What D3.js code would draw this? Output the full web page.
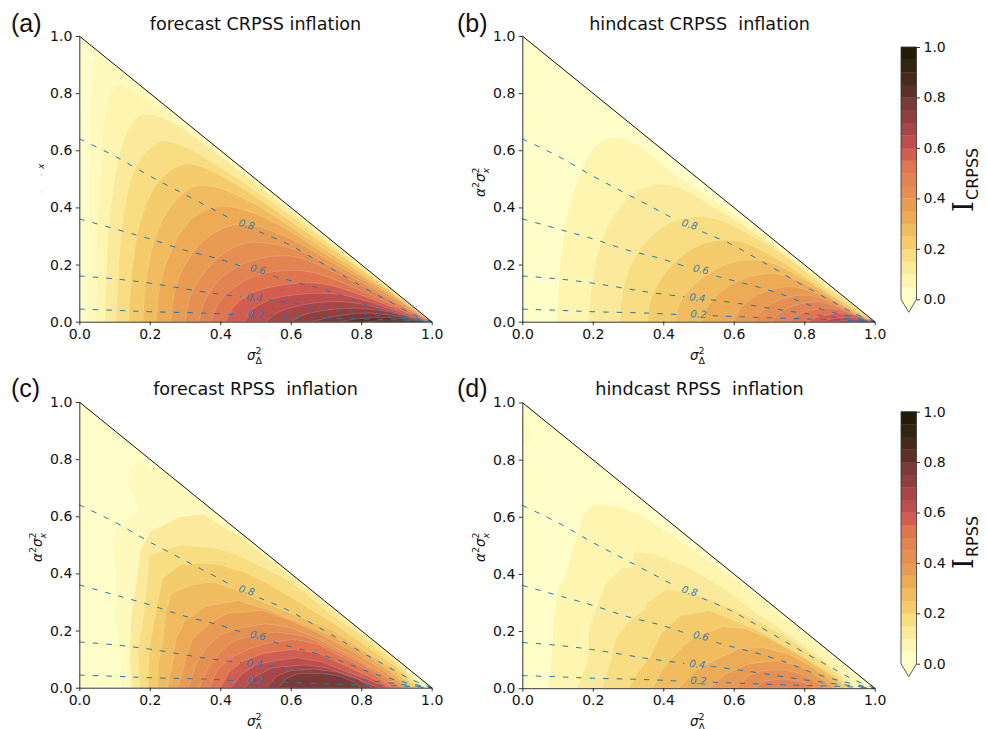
<!DOCTYPE html>
<html>
<head>
<meta charset="utf-8">
<script src="https://cdnjs.cloudflare.com/ajax/libs/d3/7.8.5/d3.min.js"></script>
<style>
  html, body { margin: 0; padding: 0; background: #fff; overflow: hidden; }
  svg { display: block; }
  text { font-family: "DejaVu Sans", sans-serif; fill: #111; }
  .tick line, .domain { stroke: #000; stroke-width: 0.8; }
  .tick text { font-size: 14px; font-family: "DejaVu Sans", sans-serif; fill: #111; }
</style>
</head>
<body>
<svg id="root" width="987" height="729"></svg>
<script>
// colour of each 0.05 wide band, low to high
const bandColors = ["#fffdc8", "#fdf5b0", "#fbea9b", "#f8dd82", "#f4cc6b", "#f1bc5f", "#edab55", "#e89b53", "#e58f52", "#e28352",
  "#df764f", "#d15e50", "#bd4e4e", "#a64646", "#8e403e", "#7a3a38", "#5c3026", "#472a1a", "#33240f", "#221c08"];
const barTicks = [0, 0.2, 0.4, 0.6, 0.8, 1];
const axisTicks = [0, 0.2, 0.4, 0.6, 0.8, 1];

// contour lines, low level first, as [x, y] in data units
const forecastCrpssEdge = [[.026,0],[.027,.3],[.03,.6],[.036,.85],[.05,.93],[.09,.905],[.3,.695],[.6,.398],[.9,.099],[1,0]];
const forecastCrpss = [
  [[.049,0],[.052,.3],[.062,.55],[.08,.76],[.11,.828],[.16,.80],[.3,.678],[.6,.39],[.9,.097],[1,0]],
  [[.074,0],[.08,.25],[.095,.45],[.125,.63],[.172,.722],[.23,.715],[.3,.668],[.6,.385],[.8,.193],[.9,.096],[1,0]],
  [[.106,0],[.113,.2],[.13,.4],[.165,.55],[.229,.629],[.29,.615],[.4,.54],[.6,.37],[.8,.187],[.9,.094],[1,0]],
  [[.142,0],[.15,.17],[.175,.35],[.22,.48],[.29,.548],[.35,.54],[.45,.475],[.6,.35],[.8,.18],[.9,.09],[1,0]],
  [[.18,0],[.19,.15],[.22,.31],[.27,.42],[.328,.474],[.39,.47],[.5,.41],[.65,.29],[.8,.17],[.9,.087],[1,0]],
  [[.218,0],[.23,.13],[.265,.26],[.32,.36],[.38,.40],[.44,.40],[.55,.35],[.7,.235],[.8,.16],[.9,.083],[1,0]],
  [[.26,0],[.272,.11],[.31,.22],[.37,.30],[.437,.338],[.5,.335],[.6,.29],[.7,.22],[.8,.15],[.9,.078],[1,0]],
  [[.30,0],[.315,.09],[.36,.18],[.41,.24],[.464,.272],[.51,.278],[.62,.25],[.72,.19],[.82,.125],[.9,.07],[1,0]],
  [[.34,0],[.355,.07],[.40,.15],[.47,.205],[.558,.23],[.62,.225],[.72,.175],[.82,.115],[.9,.065],[1,0]],
  [[.375,0],[.395,.065],[.44,.12],[.51,.165],[.605,.18],[.67,.17],[.76,.13],[.85,.08],[.92,.045],[1,0]],
  [[.415,0],[.44,.055],[.49,.10],[.56,.125],[.653,.136],[.72,.125],[.8,.093],[.87,.06],[.94,.027],[1,0]],
  [[.47,0],[.495,.045],[.55,.08],[.62,.095],[.70,.099],[.76,.09],[.83,.067],[.89,.042],[.95,.018],[1,0]],
  [[.53,0],[.56,.03],[.62,.055],[.68,.067],[.738,.07],[.80,.062],[.86,.045],[.91,.028],[.96,.01],[1,0]],
  [[.60,0],[.64,.025],[.70,.04],[.785,.047],[.85,.04],[.90,.028],[.95,.012],[1,0]],
  [[.66,0],[.71,.015],[.77,.027],[.823,.03],[.88,.024],[.93,.014],[.97,.005],[1,0]],
  [[.74,0],[.79,.01],[.85,.015],[.90,.012],[.95,.006],[.98,.002],[1,0]],
  [[.82,0],[.87,.005],[.92,.005],[.97,.002],[1,0]]
];

const hindcastCrpss = [
  [[.10,0],[.105,.15],[.125,.35],[.165,.52],[.21,.615],[.26,.643],[.32,.62],[.45,.5],[.6,.375],[.8,.192],[.9,.097],[1,0]],
  [[.19,0],[.197,.12],[.22,.26],[.26,.37],[.32,.45],[.386,.48],[.45,.465],[.55,.395],[.7,.275],[.85,.14],[.93,.066],[1,0]],
  [[.277,0],[.285,.1],[.31,.2],[.36,.29],[.43,.35],[.503,.367],[.57,.35],[.65,.3],[.75,.225],[.85,.13],[.93,.062],[1,0]],
  [[.357,0],[.367,.08],[.40,.16],[.45,.225],[.50,.265],[.56,.283],[.63,.275],[.72,.22],[.82,.14],[.9,.075],[1,0]],
  [[.435,0],[.445,.06],[.48,.12],[.53,.17],[.59,.205],[.653,.218],[.71,.205],[.79,.155],[.87,.095],[.94,.04],[1,0]],
  [[.51,0],[.525,.05],[.565,.105],[.63,.15],[.705,.169],[.76,.155],[.83,.115],[.9,.065],[.96,.022],[1,0]],
  [[.60,0],[.615,.04],[.65,.08],[.70,.11],[.757,.122],[.81,.11],[.87,.08],[.93,.04],[1,0]],
  [[.66,0],[.675,.03],[.71,.065],[.75,.085],[.795,.093],[.84,.085],[.89,.06],[.94,.03],[1,0]],
  [[.71,0],[.73,.03],[.77,.055],[.833,.07],[.875,.06],[.92,.04],[.96,.018],[1,0]],
  [[.76,0],[.78,.022],[.82,.04],[.87,.047],[.91,.04],[.95,.022],[1,0]],
  [[.81,0],[.835,.015],[.87,.025],[.90,.03],[.94,.024],[.97,.01],[1,0]],
  [[.85,0],[.88,.01],[.927,.015],[.96,.01],[1,0]],
  [[.89,0],[.93,.006],[.96,.006],[1,0]]
];

const forecastRpssEdge = [[.12,0],[.117,.137],[.101,.242],[.106,.37],[.097,.498],[.106,.557],[.168,.625],[.149,.69],[.139,.754],[.168,.80],[.25,.745],[.4,.595],[.6,.398],[.8,.198],[.9,.099],[.985,0]];
const forecastRpss = [
  [[.148,0],[.144,.137],[.148,.253],[.163,.37],[.172,.475],[.2,.545],[.286,.597],[.352,.607],[.38,.585],[.46,.525],[.6,.39],[.8,.193],[.9,.096],[.975,0]],
  [[.172,0],[.167,.137],[.182,.242],[.191,.335],[.2,.463],[.286,.498],[.38,.489],[.437,.47],[.52,.42],[.6,.37],[.7,.27],[.8,.18],[.9,.085],[.965,0]],
  [[.196,0],[.2,.14],[.22,.277],[.238,.382],[.286,.428],[.34,.435],[.39,.43],[.465,.405],[.54,.36],[.62,.3],[.72,.225],[.82,.14],[.9,.07],[.955,0]],
  [[.22,0],[.225,.09],[.238,.17],[.245,.265],[.262,.33],[.32,.36],[.38,.37],[.44,.345],[.52,.3],[.62,.25],[.72,.2],[.82,.12],[.9,.055],[.945,0]],
  [[.25,0],[.265,.09],[.274,.17],[.30,.235],[.36,.285],[.45,.305],[.53,.275],[.62,.23],[.72,.18],[.82,.11],[.89,.05],[.935,0]],
  [[.28,0],[.30,.09],[.32,.17],[.37,.225],[.42,.26],[.52,.27],[.6,.235],[.68,.19],[.78,.125],[.87,.055],[.925,0]],
  [[.31,0],[.33,.08],[.36,.14],[.40,.185],[.46,.21],[.53,.224],[.6,.21],[.68,.17],[.78,.105],[.86,.05],[.915,0]],
  [[.34,0],[.365,.07],[.40,.125],[.44,.165],[.50,.185],[.56,.195],[.64,.18],[.72,.135],[.8,.085],[.86,.04],[.90,0]],
  [[.37,0],[.39,.06],[.43,.105],[.48,.135],[.53,.155],[.61,.17],[.68,.15],[.75,.105],[.82,.06],[.89,0]],
  [[.40,0],[.425,.055],[.46,.09],[.52,.12],[.61,.135],[.68,.12],[.75,.08],[.82,.04],[.88,0]],
  [[.43,0],[.46,.045],[.50,.08],[.56,.095],[.62,.105],[.69,.09],[.76,.055],[.82,.028],[.87,0]],
  [[.47,0],[.50,.04],[.55,.07],[.64,.08],[.70,.07],[.76,.045],[.85,0]],
  [[.53,0],[.56,.04],[.60,.06],[.67,.065],[.73,.055],[.79,.03],[.83,0]],
  [[.565,0],[.585,.03],[.62,.05],[.69,.05],[.74,.04],[.78,.02],[.80,0]]
];

const hindcastRpssApex = [[0,.94],[.015,.92],[.025,.89],[.018,.86],[0,.84]];
const hindcastRpss = [
  [[.075,0],[.085,.137],[.09,.242],[.1,.335],[.125,.40],[.15,.51],[.175,.61],[.20,.644],[.27,.638],[.336,.603],[.414,.545],[.51,.463],[.617,.37],[.8,.19],[.9,.085],[.98,0]],
  [[.155,0],[.187,.10],[.19,.21],[.235,.36],[.28,.417],[.313,.423],[.318,.476],[.376,.468],[.474,.42],[.57,.35],[.668,.26],[.766,.18],[.86,.095],[.945,0]],
  [[.227,0],[.255,.11],[.265,.17],[.30,.23],[.35,.277],[.355,.30],[.41,.345],[.503,.323],[.571,.29],[.668,.235],[.766,.165],[.86,.085],[.935,0]],
  [[.303,0],[.326,.05],[.364,.11],[.393,.187],[.445,.25],[.53,.27],[.662,.205],[.785,.12],[.889,.04],[.92,0]],
  [[.37,0],[.395,.06],[.42,.10],[.455,.145],[.49,.18],[.57,.215],[.63,.21],[.7,.175],[.8,.105],[.88,.04],[.915,0]],
  [[.445,0],[.49,.06],[.55,.10],[.615,.137],[.68,.143],[.757,.12],[.814,.08],[.87,.032],[.894,0]],
  [[.53,0],[.577,.05],[.643,.085],[.72,.096],[.785,.08],[.85,.032],[.885,0]],
  [[.605,0],[.643,.044],[.68,.061],[.747,.065],[.804,.044],[.86,0]],
  [[.66,0],[.69,.026],[.738,.032],[.795,.023],[.83,0]]
];

// dashed correlation lines, null marks the gap left for the label
const rho02 = [[0,.044],[.1,.04],[.2,.035],[.357,.03],[.455,.024],null,[.54,.021],[.74,.012],[.91,.006],[1,0]];
const rho04 = [[0,.16],[.1,.15],[.2,.135],[.3,.115],[.36,.103],[.46,.087],null,[.535,.077],[.626,.062],[.768,.035],[.91,.012],[1,0]];
const rho06 = [[0,.36],[.1,.325],[.2,.29],[.3,.25],[.39,.222],[.47,.19],null,[.55,.16],[.62,.137],[.673,.12],[.75,.09],[.815,.058],[.91,.023],[1,0]];
const rho08 = [[0,.64],[.1,.58],[.2,.51],[.3,.445],[.4,.38],[.43,.36],null,[.51,.315],[.588,.274],[.66,.225],[.73,.175],[.8,.125],[.872,.076],[.94,.03],[1,0]];
const rhoLines = [rho02, rho04, rho06, rho08];
const rhoNames = ["0.2", "0.4", "0.6", "0.8"];
const rhoLabelX = [.5, .497, .507, .475];
const rhoLabelY = [.026, .084, .183, .34];
const rhoLabelAngle = [3, 7, 12, 17];

const triangle = [[0,0],[0,1],[1,0]];
const hypotenuse = [[0,1],[1,0]];

const svg = d3.select("#root");

// panels: left/top of the plotting box in pixels, first = colour index of the first contour
const panels = [
  {id: "a", tag: "(a)", title: "forecast CRPSS inflation", x0: 79.3, y0: 36, lines: forecastCrpss, edge: forecastCrpssEdge, first: 1, curve: d3.curveCatmullRom, tagX: 11, tagY: 32, titleY: 29.5, labelX: 247, labelY: 360},
  {id: "b", tag: "(b)", title: "hindcast CRPSS  inflation", x0: 522.3, y0: 36, lines: hindcastCrpss, edge: null, first: 1, curve: d3.curveCatmullRom, tagX: 457, tagY: 32, titleY: 29.5, labelX: 690, labelY: 360},
  {id: "c", tag: "(c)", title: "forecast RPSS  inflation", x0: 79.3, y0: 402, lines: forecastRpss, edge: forecastRpssEdge, first: 2, curve: d3.curveLinear, tagX: 11, tagY: 397, titleY: 395, labelX: 247, labelY: 726},
  {id: "d", tag: "(d)", title: "hindcast RPSS  inflation", x0: 522.3, y0: 402.5, lines: hindcastRpss, edge: hindcastRpssApex, first: 1, curve: d3.curveLinear, tagX: 457, tagY: 397, titleY: 395, labelX: 690, labelY: 726}
];

const boxW = 352.4;
const boxH = 285.7;

panels.forEach(p => drawPanel(p));
drawBar(47, 299.3, "CRPSS", 200);
drawBar(411.7, 663.7, "RPSS", 557);

function drawPanel(p) {
  let x = d3.scaleLinear().domain([0, 1]).range([p.x0, p.x0 + boxW]);
  let y = d3.scaleLinear().domain([0, 1]).range([p.y0 + boxH, p.y0]);

  let g = svg.append("g").attr("class", "panel-" + p.id);

  let outline = d3.line().x(d => x(d[0])).y(d => y(d[1]));
  let smooth = d3.line().x(d => x(d[0])).y(d => y(d[1])).curve(p.curve);

  g.append("clipPath").attr("id", "clip-" + p.id)
    .append("path").attr("d", outline(triangle) + "Z");

  let fills = g.append("g").attr("clip-path", "url(#clip-" + p.id + ")");

  fills.append("path")
    .attr("d", outline(triangle) + "Z")
    .attr("fill", bandColors[0]);

  // faint first step, only half a band darker than the background
  if (p.edge) {
    fills.append("path")
      .attr("d", smooth(p.edge) + "Z")
      .attr("fill", bandColors[1])
      .attr("fill-opacity", 0.5);
  }

  fills.selectAll("path.level")
    .data(p.lines)
    .enter().append("path")
    .attr("class", "level")
    .attr("d", d => smooth(d) + "Z")
    .attr("fill", (d, i) => bandColors[i + p.first])
    .attr("stroke", "#fff")
    .attr("stroke-opacity", (d, i) => i + p.first > 4 ? 0.28 : 0)
    .attr("stroke-width", 0.6);

  // dashed lines
  let dashed = d3.line().defined(d => d !== null).x(d => x(d[0])).y(d => y(d[1])).curve(d3.curveCatmullRom);

  rhoLines.forEach(line => {
    g.append("path")
      .attr("d", dashed(line))
      .attr("fill", "none")
      .attr("stroke", "#1f77b4")
      .attr("stroke-width", 1)
      .attr("stroke-dasharray", "5.5 8");
  });

  rhoNames.forEach((name, i) => {
    let lx = x(rhoLabelX[i]), ly = y(rhoLabelY[i]);
    g.append("text")
      .attr("transform", `translate(${lx},${ly}) rotate(${rhoLabelAngle[i]})`)
      .attr("text-anchor", "middle")
      .attr("dy", "0.35em")
      .style("font-size", "10px")
      .style("font-style", "italic")
      .style("fill", "#2f7fb8")
      .text(name);
  });

  // black edge of the triangle
  g.append("path")
    .attr("d", outline(hypotenuse))
    .attr("fill", "none")
    .attr("stroke", "#111")
    .attr("stroke-width", 1);

  let xAxis = d3.axisBottom(x).tickValues(axisTicks).tickFormat(d3.format(".1f")).tickSize(3.5).tickPadding(3.5).tickSizeOuter(0);
  let yAxis = d3.axisLeft(y).tickValues(axisTicks).tickFormat(d3.format(".1f")).tickSize(3.5).tickPadding(3.5).tickSizeOuter(0);

  g.append("g").attr("transform", `translate(0,${p.y0 + boxH})`).call(xAxis);
  g.append("g").attr("transform", `translate(${p.x0},0)`).call(yAxis);

  g.selectAll(".tick text").attr("font-family", null).attr("font-size", null);

  g.append("text")
    .attr("x", p.x0 + boxW / 2 + (p.id == "a" || p.id == "c" ? 0 : 1))
    .attr("y", p.titleY)
    .attr("text-anchor", "middle")
    .attr("xml:space", "preserve")
    .style("white-space", "pre")
    .style("font-size", "17.6px")
    .text(p.title);

  g.append("text")
    .attr("x", p.tagX)
    .attr("y", p.tagY)
    .style("font-family", "'Liberation Sans', sans-serif")
    .style("font-size", "25px")
    .text(p.tag);

  drawXLabel(g, p.labelX, p.labelY);
  if (p.id == "b") drawYLabel(g, 484.5, 197);
  if (p.id == "c") drawYLabel(g, 41.5, 562);
  if (p.id == "d") drawYLabel(g, 484.5, 562);
  if (p.id == "a") drawLabelScrap(g);
}

function mathPiece(g, dx, dy, size, italic, str) {
  g.append("text")
    .attr("x", dx)
    .attr("y", dy)
    .style("font-size", size + "px")
    .style("font-style", italic ? "italic" : "normal")
    .text(str);
}

function drawXLabel(g, px, py) {
  let t = g.append("g").attr("transform", `translate(${px},${py})`);
  mathPiece(t, 0, 0, 13.5, true, "σ");
  mathPiece(t, 8.5, -6, 9.5, false, "2");
  mathPiece(t, 8.5, 4, 9.5, false, "Δ");
}

function drawYLabel(g, px, py) {
  let t = g.append("g").attr("transform", `translate(${px},${py}) rotate(-90)`);
  mathPiece(t, 0, 0, 13.5, true, "α");
  mathPiece(t, 9, -6, 9.5, false, "2");
  mathPiece(t, 15, 0, 13.5, true, "σ");
  mathPiece(t, 23.5, -6, 9.5, false, "2");
  mathPiece(t, 23.5, 4, 9.5, true, "x");
}

// panel (a) only keeps scraps of its y label
function drawLabelScrap(g) {
  let t = g.append("g").attr("transform", "translate(44,169) rotate(-90)");
  mathPiece(t, 0, 0, 9, true, "x");
  g.append("text").attr("transform", "translate(43,176) rotate(-90)").style("font-size", "6px").style("fill", "#777").text("-");
  g.append("text").attr("transform", "translate(43,193) rotate(-90)").style("font-size", "6px").style("fill", "#aaa").text("-");
}

function drawBar(top, bottom, name, labelBottom) {
  let barX = 901, barW = 15.5;
  let scale = d3.scaleLinear().domain([0, 1]).range([bottom, top]);
  let g = svg.append("g");

  g.selectAll("rect")
    .data(bandColors)
    .enter().append("rect")
    .attr("x", barX)
    .attr("width", barW)
    .attr("y", (d, i) => scale((i + 1) * 0.05))
    .attr("height", (d, i) => scale(i * 0.05) - scale((i + 1) * 0.05) + 0.3)
    .attr("fill", d => d);

  let tip = [[barX, bottom], [barX + barW / 2, bottom + 13], [barX + barW, bottom]];
  g.append("path").attr("d", d3.line()(tip) + "Z").attr("fill", bandColors[0]);

  g.append("path")
    .attr("d", d3.line()([[barX, bottom], [barX, top], [barX + barW, top], [barX + barW, bottom], tip[1]]) + "Z")
    .attr("fill", "none")
    .attr("stroke", "#333")
    .attr("stroke-width", 0.8);

  let axis = d3.axisRight(scale).tickValues(barTicks).tickFormat(d3.format(".1f")).tickSize(3.5).tickPadding(3.5).tickSizeOuter(0);
  let ag = g.append("g").attr("transform", `translate(${barX + barW},0)`).call(axis);
  ag.select(".domain").remove();
  ag.selectAll(".tick text").attr("font-family", null).attr("font-size", null);

  g.append("text")
    .attr("transform", `translate(973,${labelBottom + 12}) rotate(-90)`)
    .style("font-family", "'DejaVu Serif', serif")
    .style("font-size", "27px")
    .text("I");
  g.append("text")
    .attr("transform", `translate(978,${labelBottom}) rotate(-90)`)
    .style("font-size", "16px")
    .text(name);
}
</script>
</body>
</html>
